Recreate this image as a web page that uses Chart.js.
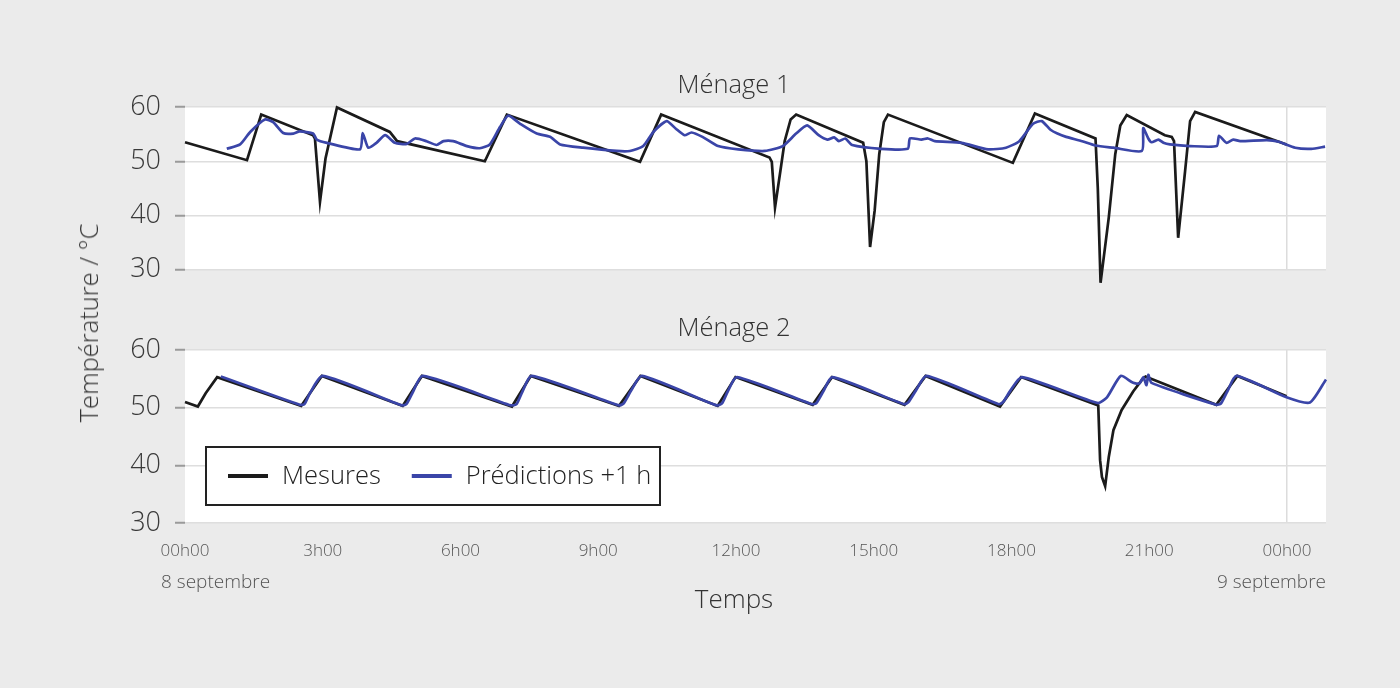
<!DOCTYPE html>
<html lang="fr">
<head>
<meta charset="utf-8">
<title>Ménage 1 / Ménage 2</title>
<script src="https://cdn.jsdelivr.net/npm/chart.js@4.4.0/dist/chart.umd.min.js"></script>
<style>
  html, body { margin: 0; padding: 0; background: #ebebeb; }
  #wrap { position: relative; width: 1400px; height: 688px; overflow: hidden; }
  #c1 { position: absolute; left: 0; top: 0; }
  #c2 { position: absolute; left: 0; top: 300px; }
  #ytitle {
    position: absolute; left: 88px; top: 323px;
    transform: translate(-50%, -50%) rotate(-90deg);
    font: 300 25.5px "Open Sans", Lato, sans-serif; color: #333; white-space: nowrap;
  }
</style>
</head>
<body>
<div id="wrap">
  <canvas id="c1" width="1400" height="300"></canvas>
  <canvas id="c2" width="1400" height="388"></canvas>
  <div id="ytitle">Température / °C</div>
</div>
<script>
'use strict';

var panelTitles = ['Ménage 1', 'Ménage 2'];
var seriesNames = ['Mesures', 'Prédictions +1 h'];
var tickLabels = ['00h00', '3h00', '6h00', '9h00', '12h00', '15h00', '18h00', '21h00', '00h00'];
var dateLabels = ['8 septembre', '9 septembre'];
var axisTitleX = 'Temps';

// Ménage 1 - mesures (heures, °C)
var m1MesuresH = [0.00, 1.35, 1.66, 2.79, 2.83, 2.94, 3.06, 3.31, 4.46, 4.62, 6.53, 7.01, 9.91, 10.37,
  12.73, 12.78, 12.85, 12.97, 13.06, 13.19, 13.31, 14.77, 14.84, 14.92, 15.02, 15.12, 15.22, 15.31,
  18.03, 18.51, 19.83, 19.88, 19.94, 20.12, 20.26, 20.37, 20.51, 21.34, 21.49, 21.54, 21.63, 21.78, 21.89, 22.00, 23.99];
var m1MesuresT = [53.5, 50.2, 58.6, 54.8, 54.2, 42.5, 50.5, 59.9, 55.4, 53.7, 50.0, 58.6, 49.9, 58.6,
  50.7, 49.9, 41.5, 48.4, 53.7, 57.7, 58.6, 53.4, 50.0, 34.2, 40.9, 51.3, 57.2, 58.6,
  49.7, 58.8, 54.2, 45.0, 27.6, 39.7, 51.3, 56.6, 58.5, 54.8, 54.5, 53.7, 35.9, 48.1, 57.4, 59.1, 53.1];

// Ménage 1 - prédictions +1 h
var m1PredH = [0.91, 1.20, 1.42, 1.74, 1.92, 2.14, 2.36, 2.50, 2.79, 2.87, 3.09, 3.81, 3.87, 3.99, 4.17, 4.36,
  4.57, 4.83, 5.01, 5.26, 5.48, 5.63, 5.84, 6.14, 6.42, 6.64, 6.86, 7.04, 7.30, 7.66, 7.95, 8.17, 8.67,
  9.40, 9.69, 9.98, 10.20, 10.49, 10.69, 10.88, 11.03, 11.27, 11.61, 12.05, 12.63, 13.02, 13.31, 13.55,
  13.80, 13.99, 14.14, 14.24, 14.38, 14.53, 15.16, 15.74, 15.79, 16.04, 16.18, 16.33, 16.91, 17.49, 17.88,
  18.17, 18.47, 18.66, 18.85, 19.00, 19.19, 19.54, 19.83, 20.22, 20.84, 20.87, 20.98, 21.05, 21.20, 21.31,
  21.45, 21.89, 22.47, 22.52, 22.68, 22.83, 22.98, 23.56, 23.82, 24.18, 24.53, 24.83];
var m1PredT = [52.3, 53.1, 55.4, 57.7, 57.2, 55.2, 55.1, 55.5, 55.1, 54.0, 53.4, 52.2, 55.2, 52.5, 53.4, 54.8,
  53.4, 53.2, 54.2, 53.7, 53.0, 53.7, 53.7, 52.8, 52.4, 53.1, 56.3, 58.4, 56.9, 55.1, 54.5, 53.1, 52.5,
  51.9, 51.9, 52.8, 55.4, 57.4, 56.0, 54.8, 55.3, 54.5, 52.8, 52.2, 51.9, 52.8, 55.1, 56.6,
  54.8, 54.0, 54.4, 53.7, 54.2, 53.0, 52.3, 52.3, 54.2, 54.0, 54.2, 53.7, 53.4, 52.2, 52.5,
  53.7, 56.9, 57.4, 55.8, 55.1, 54.5, 53.7, 52.9, 52.5, 51.9, 56.1, 54.2, 53.5, 54.0, 53.4,
  53.1, 52.8, 52.8, 54.7, 53.4, 54.0, 53.7, 53.9, 53.6, 52.5, 52.3, 52.7];

// Ménage 2 - mesures
var m2MesuresH = [0.00, 0.28, 0.45, 0.70, 2.53, 2.98, 4.74, 5.16, 7.12, 7.53, 9.45, 9.92, 11.60, 11.99,
  13.67, 14.09, 15.67, 16.13, 17.75, 18.21, 19.89, 19.93, 19.97, 20.04, 20.12, 20.22, 20.40, 20.65, 20.84,
  20.92, 22.46, 22.92, 23.99];
var m2MesuresT = [51.0, 50.2, 52.5, 55.3, 50.3, 55.5, 50.3, 55.5, 50.2, 55.5, 50.3, 55.5, 50.3, 55.3,
  50.5, 55.3, 50.5, 55.5, 50.2, 55.3, 50.4, 40.9, 38.0, 36.4, 41.5, 46.1, 49.6, 52.8, 54.8,
  55.4, 50.5, 55.5, 52.0];

// Ménage 2 - prédictions +1 h
var m2PredH = [0.78, 2.50, 2.60, 2.72, 3.00, 4.72, 4.82, 4.95, 5.18, 7.10, 7.22, 7.35, 7.55, 9.45, 9.55,
  9.72, 9.95, 11.58, 11.70, 11.82, 12.02, 13.66, 13.75, 13.90, 14.10, 15.66, 15.75, 15.92, 16.15, 17.72,
  17.82, 17.98, 18.23, 19.88, 20.08, 20.38, 20.65, 20.79, 20.87, 20.94, 20.98, 21.05, 22.46, 22.56, 22.70,
  22.90, 23.99, 24.50, 24.85];
var m2PredT = [55.4, 50.5, 50.6, 52.5, 55.5, 50.4, 50.6, 52.5, 55.5, 50.4, 50.6, 52.8, 55.5, 50.4, 50.7,
  53.0, 55.5, 50.4, 50.8, 52.8, 55.3, 50.6, 50.8, 52.8, 55.3, 50.6, 50.9, 53.0, 55.5, 50.6,
  51.0, 53.0, 55.3, 50.8, 51.8, 55.5, 54.3, 54.2, 55.3, 53.9, 55.7, 54.3, 50.5, 50.7, 52.8,
  55.5, 51.8, 50.9, 54.9];

var FONT = '"Open Sans", Lato, sans-serif';
var BLACK = '#1b1b1b';
var BLUE = '#3a45a8';

function toPoints(hours, temps) {
  return hours.map(function(h, i) { return { x: h, y: temps[i] }; });
}

// fond blanc de la zone de tracé
var plotBackground = {
  id: 'plotBackground',
  beforeDraw: function(chart) {
    var a = chart.chartArea, ctx = chart.ctx;
    ctx.save();
    ctx.fillStyle = '#ffffff';
    ctx.fillRect(a.left, a.top, a.right - a.left, a.bottom - a.top);
    ctx.restore();
  }
};

// titre de panneau, centré sur la journée
var panelTitle = {
  id: 'panelTitle',
  afterDraw: function(chart, args, opts) {
    var xs = chart.scales.x, ctx = chart.ctx;
    var cx = (xs.getPixelForValue(0) + xs.getPixelForValue(24)) / 2;
    ctx.save();
    ctx.font = '300 25.5px ' + FONT;
    ctx.fillStyle = '#333';
    ctx.textAlign = 'center';
    ctx.textBaseline = 'middle';
    ctx.fillText(opts.text, cx - 2, chart.chartArea.top - 21);
    ctx.restore();
  }
};

// légende encadrée dans le panneau du bas
var boxedLegend = {
  id: 'boxedLegend',
  afterDraw: function(chart) {
    var ctx = chart.ctx, a = chart.chartArea;
    var x = a.left + 21, y = a.top + 97, w = 454, h = 58;
    ctx.save();
    ctx.fillStyle = '#ffffff';
    ctx.fillRect(x, y, w, h);
    ctx.strokeStyle = '#222';
    ctx.lineWidth = 2;
    ctx.strokeRect(x, y, w, h);
    ctx.font = '300 25.5px ' + FONT;
    ctx.textBaseline = 'middle';
    var cx = x + 22, cy = y + h / 2;
    chart.data.datasets.forEach(function(ds) {
      ctx.strokeStyle = ds.borderColor;
      ctx.lineWidth = 4;
      ctx.beginPath();
      ctx.moveTo(cx, cy);
      ctx.lineTo(cx + 40, cy);
      ctx.stroke();
      ctx.fillStyle = '#222';
      ctx.fillText(ds.label, cx + 54, cy + 1);
      cx += 54 + ctx.measureText(ds.label).width + 31;
    });
    ctx.restore();
  }
};

// dates sous les graduations et titre de l'axe x
var dateAxis = {
  id: 'dateAxis',
  afterDraw: function(chart) {
    var ctx = chart.ctx, xs = chart.scales.x, a = chart.chartArea;
    ctx.save();
    ctx.fillStyle = '#555';
    ctx.font = '300 19px ' + FONT;
    ctx.textBaseline = 'middle';
    ctx.textAlign = 'left';
    ctx.fillText(dateLabels[0], xs.getPixelForValue(0) - 24, a.bottom + 60);
    ctx.textAlign = 'right';
    ctx.fillText(dateLabels[1], a.right, a.bottom + 60);
    ctx.font = '300 26px ' + FONT;
    ctx.fillStyle = '#333';
    ctx.textAlign = 'center';
    ctx.fillText(axisTitleX, (xs.getPixelForValue(0) + xs.getPixelForValue(24)) / 2 - 2, a.bottom + 78);
    ctx.restore();
  }
};

function makeChart(canvasId, title, mesuresH, mesuresT, predH, predT, isBottom) {
  var plugins = [plotBackground, panelTitle];
  if (isBottom) {
    plugins.push(boxedLegend, dateAxis);
  }
  return new Chart(document.getElementById(canvasId), {
    type: 'line',
    data: {
      datasets: [{
        label: seriesNames[0],
        data: toPoints(mesuresH, mesuresT),
        borderColor: BLACK,
        borderWidth: 2.7,
        pointRadius: 0,
        tension: 0,
        clip: false,
        order: 1
      }, {
        label: seriesNames[1],
        data: toPoints(predH, predT),
        borderColor: BLUE,
        borderWidth: 2.7,
        pointRadius: 0,
        tension: 0.2,
        clip: false,
        order: 0
      }]
    },
    options: {
      responsive: false,
      animation: false,
      events: [],
      layout: {
        padding: isBottom ? { top: 50, right: 74, bottom: 0, left: 0 } : { top: 107, right: 74, bottom: 21, left: 0 }
      },
      plugins: {
        legend: { display: false },
        tooltip: { enabled: false },
        panelTitle: { text: title }
      },
      scales: {
        x: {
          type: 'linear',
          min: 0,
          max: 24.85,
          border: { display: false },
          grid: {
            drawTicks: false,
            lineWidth: 1.5,
            color: function(c) {
              return c.tick && c.tick.value === 24 ? '#dcdcdc' : 'rgba(0,0,0,0)';
            }
          },
          ticks: {
            display: isBottom,
            stepSize: 3,
            includeBounds: false,
            autoSkip: false,
            maxRotation: 0,
            padding: 18,
            color: '#555',
            font: { family: FONT, size: 17, weight: '300' },
            callback: function(v) { return tickLabels[v / 3]; }
          },
          afterFit: function(s) { s.height = isBottom ? 165 : 0; }
        },
        y: {
          min: 30,
          max: 60,
          border: { display: false },
          grid: {
            color: '#dedede',
            lineWidth: 1.5,
            tickLength: 10,
            tickColor: '#9a9a9a',
            tickWidth: 2
          },
          ticks: {
            stepSize: 10,
            padding: 14,
            color: '#3a3a3a',
            font: { family: FONT, size: 27, weight: '300' }
          },
          afterFit: function(s) { s.width = 185; }
        }
      }
    },
    plugins: plugins
  });
}

makeChart('c1', panelTitles[0], m1MesuresH, m1MesuresT, m1PredH, m1PredT, false);
makeChart('c2', panelTitles[1], m2MesuresH, m2MesuresT, m2PredH, m2PredT, true);
</script>
</body>
</html>
